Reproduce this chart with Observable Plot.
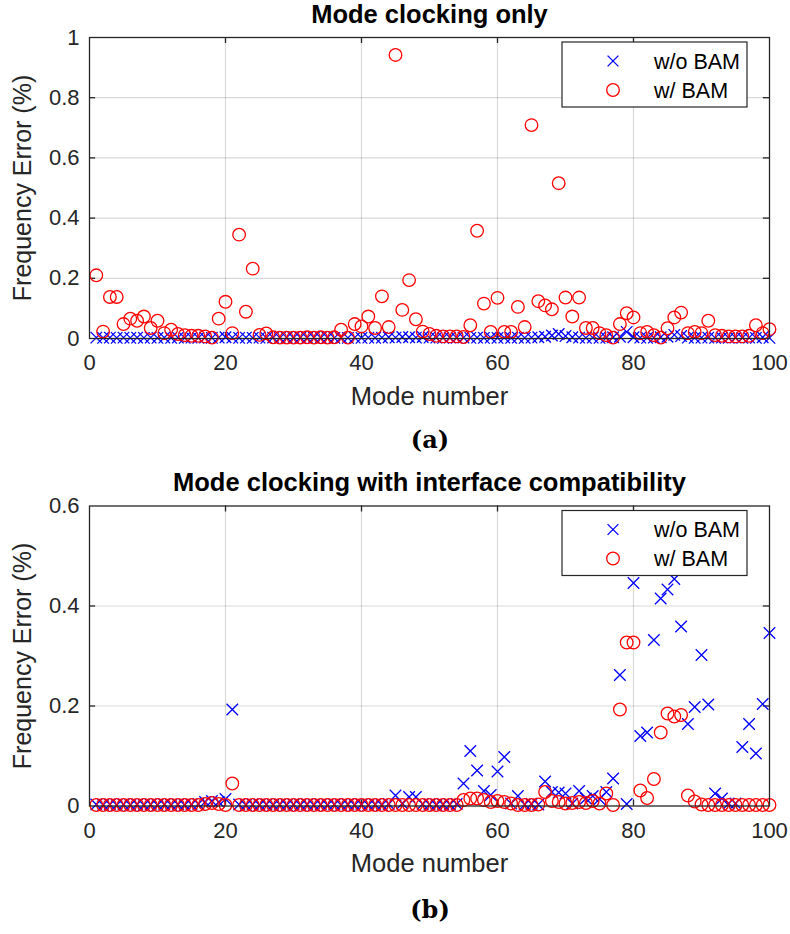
<!DOCTYPE html>
<html><head><meta charset="utf-8">
<script src="https://cdn.jsdelivr.net/npm/d3@7"></script>
<script src="https://cdn.jsdelivr.net/npm/@observablehq/plot@0.6"></script>
<style>
body{margin:0;background:#fff;}
#wrap{position:relative;width:790px;height:934px;overflow:hidden;}
#wrap svg{position:absolute;left:0;}
.cap{position:absolute;left:0;width:860px;text-align:center;font-family:"DejaVu Serif",serif;font-weight:bold;font-size:24px;line-height:28px;color:#000;}
</style></head><body><div id="wrap"></div>
<script>
const modes = d3.range(1, 101);
const xTicks = [0, 20, 40, 60, 80, 100];
const yTicksA = [0, 0.2, 0.4, 0.6, 0.8, 1];
const yTicksB = [0, 0.2, 0.4, 0.6];
const titleA = "Mode clocking only";
const titleB = "Mode clocking with interface compatibility";
const xLabel = "Mode number";
const yLabel = "Frequency Error (%)";
const seriesNames = ["w/o BAM", "w/ BAM"];

const topWoBAM = [
0.003,0.002,0.003,0.002,0.003,0.002,0.003,0.002,0.003,0.002,
0.003,0.002,0.003,0.002,0.003,0.002,0.003,0.002,0.003,0.004,
0.003,0.002,0.003,0.002,0.003,0.002,0.003,0.002,0.003,0.002,
0.003,0.002,0.003,0.002,0.003,0.002,0.003,0.002,0.003,0.002,
0.003,0.002,0.003,0.004,0.003,0.005,0.004,0.003,0.005,0.003,
0.003,0.002,0.003,0.002,0.003,0.002,0.003,0.002,0.003,0.002,
0.003,0.002,0.003,0.002,0.003,0.004,0.006,0.010,0.015,0.008,
0.004,0.003,0.002,0.003,0.002,0.003,0.004,0.006,0.022,0.004,
0.003,0.002,0.003,0.004,0.006,0.012,0.008,0.003,0.002,0.003,
0.003,0.002,0.003,0.002,0.003,0.002,0.003,0.002,0.004,0.002];

const topWBAM = [
0.210,0.023,0.138,0.138,0.048,0.066,0.059,0.073,0.035,0.059,
0.018,0.029,0.015,0.011,0.009,0.009,0.007,0.003,0.066,0.122,
0.018,0.345,0.089,0.232,0.012,0.017,0.004,0.003,0.003,0.003,
0.003,0.004,0.003,0.004,0.003,0.004,0.029,0.003,0.048,0.040,
0.073,0.035,0.140,0.038,0.942,0.095,0.194,0.064,0.023,0.015,
0.009,0.007,0.007,0.007,0.005,0.044,0.358,0.116,0.022,0.135,
0.022,0.022,0.105,0.038,0.709,0.124,0.110,0.097,0.516,0.136,
0.073,0.136,0.035,0.035,0.018,0.011,0.003,0.048,0.084,0.070,
0.018,0.022,0.011,0.003,0.034,0.070,0.086,0.018,0.022,0.018,
0.059,0.011,0.009,0.007,0.007,0.007,0.009,0.044,0.018,0.031];

const botWoBAM = [
0.003,0.002,0.003,0.002,0.003,0.002,0.003,0.002,0.003,0.002,
0.003,0.002,0.003,0.002,0.003,0.004,0.008,0.010,0.008,0.014,
0.193,0.003,0.002,0.003,0.002,0.003,0.002,0.003,0.002,0.003,
0.002,0.003,0.002,0.003,0.002,0.003,0.002,0.003,0.002,0.003,
0.002,0.003,0.002,0.004,0.021,0.005,0.018,0.018,0.004,0.003,
0.002,0.003,0.003,0.004,0.045,0.110,0.071,0.030,0.022,0.069,
0.098,0.005,0.020,0.003,0.004,0.003,0.049,0.028,0.027,0.025,
0.005,0.030,0.015,0.020,0.014,0.028,0.055,0.262,0.004,0.446,
0.140,0.147,0.332,0.415,0.433,0.454,0.359,0.164,0.198,0.302,
0.203,0.025,0.015,0.005,0.005,0.118,0.164,0.105,0.204,0.346];

const botWBAM = [
0.002,0.002,0.002,0.002,0.002,0.002,0.002,0.002,0.002,0.002,
0.002,0.002,0.002,0.002,0.002,0.002,0.004,0.006,0.004,0.002,
0.045,0.002,0.002,0.002,0.002,0.002,0.002,0.002,0.002,0.002,
0.002,0.002,0.002,0.002,0.002,0.002,0.002,0.002,0.002,0.002,
0.002,0.002,0.002,0.002,0.002,0.002,0.002,0.002,0.002,0.002,
0.002,0.002,0.002,0.002,0.012,0.015,0.015,0.012,0.008,0.010,
0.008,0.005,0.002,0.002,0.002,0.003,0.028,0.010,0.008,0.005,
0.006,0.008,0.006,0.010,0.005,0.025,0.002,0.193,0.327,0.327,
0.031,0.016,0.054,0.147,0.185,0.179,0.182,0.021,0.009,0.003,
0.002,0.002,0.002,0.002,0.002,0.002,0.002,0.002,0.002,0.002];

const FONT = "'Liberation Sans', Arial, Helvetica, sans-serif";
const AXC = "#262626";

function panel({title, wo, wb, yDomain, yTicks, height, mTop, mBottom, top}) {
  const data = modes.map((m, i) => ({mode: m, wo: wo[i], wb: wb[i]}));
  const xT = 0.9;
  const yT = (yDomain[1] - yDomain[0]) * 0.02;
  const inner = xTicks.slice(1, -1);
  const innerY = yTicks.slice(1, -1);
  const svg = Plot.plot({
    width: 790, height,
    marginLeft: 89, marginRight: 21, marginTop: mTop, marginBottom: mBottom,
    style: {fontFamily: FONT, fontSize: "22px", color: AXC, background: "white"},
    x: {domain: [0, 100]},
    y: {domain: yDomain},
    marks: [
      Plot.gridX(inner, {stroke: "#000", strokeOpacity: 0.15, strokeWidth: 1.2}),
      Plot.gridY(innerY, {stroke: "#000", strokeOpacity: 0.15, strokeWidth: 1.2}),
      Plot.axisX(xTicks, {tickSize: 0, tickPadding: 16, fontSize: 22, label: null, tickFormat: d => String(d), fill: AXC}),
      Plot.axisY(yTicks, {tickSize: 0, tickPadding: 10, fontSize: 22, label: null, tickFormat: d => String(d), fill: AXC}),
      Plot.ruleX(inner, {y1: yDomain[0], y2: yDomain[0] + yT, stroke: AXC, strokeWidth: 1.3}),
      Plot.ruleX(inner, {y1: yDomain[1], y2: yDomain[1] - yT, stroke: AXC, strokeWidth: 1.3}),
      Plot.ruleY(innerY, {x1: 0, x2: xT, stroke: AXC, strokeWidth: 1.3}),
      Plot.ruleY(innerY, {x1: 100, x2: 100 - xT, stroke: AXC, strokeWidth: 1.3}),
      Plot.dot(data, {x: "mode", y: "wo", symbol: "times", r: 5.3, stroke: "#0000ff", strokeWidth: 1.3}),
      Plot.dot(data, {x: "mode", y: "wb", symbol: "circle", r: 6.3, stroke: "#ff0000", strokeWidth: 1.3, fill: "none"}),
      Plot.frame({stroke: AXC, strokeWidth: 1.3}),
      Plot.text([title], {frameAnchor: "top", lineAnchor: "middle", textAnchor: "middle", dy: -23, fontWeight: "bold", fontSize: 25.5, fill: "#000"}),
      Plot.text([xLabel], {frameAnchor: "bottom", lineAnchor: "middle", textAnchor: "middle", dy: 58, fontSize: 25.5, fill: AXC}),
      Plot.text([yLabel], {frameAnchor: "left", lineAnchor: "middle", textAnchor: "middle", dx: -67, rotate: -90, fontSize: 25, fill: AXC})
    ]
  });
  svg.style.top = top + "px";
  // legend box (layout element, placed relative to the frame's top-right corner)
  const right = 790 - 21;
  const g = d3.select(svg).append("g");
  const bx = right - 207, by = mTop + 5;
  g.append("rect").attr("x", bx).attr("y", by).attr("width", 185).attr("height", 65)
    .attr("fill", "white").attr("stroke", AXC).attr("stroke-width", 1.2);
  const mx = bx + 51, tx = bx + 92;
  const r1 = by + 19, r2 = by + 48;
  g.append("path").attr("d", `M${mx-5.4},${r1-5.4}L${mx+5.4},${r1+5.4}M${mx-5.4},${r1+5.4}L${mx+5.4},${r1-5.4}`)
    .attr("stroke", "#0000ff").attr("stroke-width", 1.3).attr("fill", "none");
  g.append("circle").attr("cx", mx).attr("cy", r2).attr("r", 6.3)
    .attr("stroke", "#ff0000").attr("stroke-width", 1.3).attr("fill", "none");
  [[seriesNames[0], r1], [seriesNames[1], r2]].forEach(([t, yy]) => {
    g.append("text").attr("x", tx).attr("y", yy).attr("dy", "0.35em")
      .attr("text-anchor", "start")
      .attr("font-family", FONT).attr("font-size", 21.5).attr("fill", "#000").text(t);
  });
  return svg;
}

const wrap = document.getElementById("wrap");
wrap.appendChild(panel({title: titleA, wo: topWoBAM, wb: topWBAM, yDomain: [0, 1], yTicks: yTicksA,
  height: 420, mTop: 37, mBottom: 82, top: 0}));
const capA = document.createElement("div");
capA.className = "cap"; capA.style.top = "426px"; capA.textContent = "(a)";
wrap.appendChild(capA);
wrap.appendChild(panel({title: titleB, wo: botWoBAM, wb: botWBAM, yDomain: [0, 0.6], yTicks: yTicksB,
  height: 430, mTop: 45.5, mBottom: 84.5, top: 460}));
const capB = document.createElement("div");
capB.className = "cap"; capB.style.top = "896px"; capB.textContent = "(b)";
wrap.appendChild(capB);
</script></body></html>
